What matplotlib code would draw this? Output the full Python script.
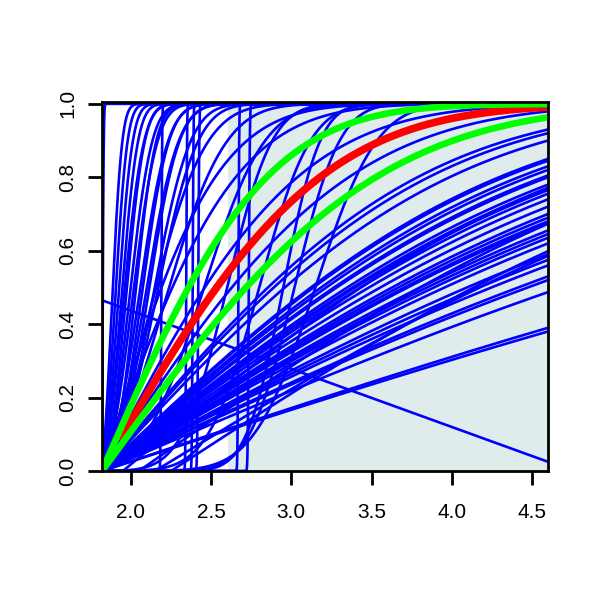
import math
import numpy as np
import matplotlib
matplotlib.use("Agg")
import matplotlib.pyplot as plt

x_min, x_max = 1.82, 4.6

# shaded region
shade_x = [2.605, 4.6]
shade_y = [0.0, 1.0]

# every curve: CDF of a normal (mean, sd) truncated at its start (default x_min)
# steep curves near the left edge
left_mean = [1.822, 1.88, 1.90, 1.92, 1.94, 1.95, 1.97, 1.99, 2.01, 2.03, 2.05, 2.07, 2.09, 2.11, 2.14, 2.16, 2.10, 2.20]
left_sd = [0.006, 0.05, 0.06, 0.07, 0.08, 0.10, 0.09, 0.11, 0.12, 0.10, 0.14, 0.13, 0.16, 0.15, 0.18, 0.20, 0.28, 0.30]

# near-vertical steps
step_mean = [2.19, 2.345, 2.385, 2.42, 2.67, 2.735]
step_sd = [0.004, 0.004, 0.004, 0.005, 0.004, 0.005]

# S-shaped curves in the middle
mid_mean = [2.45, 2.60, 2.80, 2.95, 3.02, 3.15]
mid_sd = [0.30, 0.22, 0.25, 0.18, 0.22, 0.30]

# fan of curves rising from the origin
fan_mean = [1.82] * 35
fan_sd = [0.55, 0.65, 0.95, 1.20,
          1.534, 1.588, 1.690, 1.931, 1.955, 2.026, 2.073, 2.145, 2.169, 2.267,
          2.316, 2.340, 2.390, 2.468, 2.573, 2.682, 2.739, 2.795, 2.825, 2.943,
          3.004, 3.068, 3.167, 3.374, 3.485, 3.600, 3.848, 3.936, 4.248, 5.450, 5.606]

# fan curves that leave the bottom a little later
late_start = [1.95, 2.05, 2.15, 2.25]
late_sd = [2.2, 2.6, 3.0, 2.8]

# decreasing straight line
dec_x = [1.82, 4.6]
dec_y = [0.465, 0.025]

# highlighted curves
red_mean, red_sd, red_start = 1.82, 1.06, 1.93
green_mean = [1.82, 1.82]
green_sd = [0.80, 1.331]

_erf = np.vectorize(math.erf)


def phi(z):
    return 0.5 * (1 + _erf(z / math.sqrt(2)))


def cdf(x, m, s, lo=x_min):
    a = phi((lo - m) / s)
    return np.clip((phi((x - m) / s) - a) / (1 - a), 0, 1)


xs = np.linspace(x_min, x_max, 3000)

fig = plt.figure(figsize=(6, 6), dpi=100)
ax = fig.add_axes([102 / 600, (600 - 471) / 600, (548 - 102) / 600, (471 - 102) / 600])

ax.fill_between(shade_x, shade_y[0], shade_y[1], color="#E0ECEC", lw=0, zorder=0)

blue_kw = dict(color="#0000FF", lw=1.9, zorder=2)
for group_m, group_s in [(left_mean, left_sd), (step_mean, step_sd), (mid_mean, mid_sd), (fan_mean, fan_sd)]:
    for m, s in zip(group_m, group_s):
        ax.plot(xs, cdf(xs, m, s), **blue_kw)
for st, s in zip(late_start, late_sd):
    ax.plot(xs, cdf(xs, st, s, st), **blue_kw)
ax.plot(dec_x, dec_y, **blue_kw)

xr = xs[xs >= red_start]
ax.plot(xr, cdf(xr, red_mean, red_sd), color="#FF0000", lw=5.5, zorder=3, solid_capstyle="butt")
for m, s in zip(green_mean, green_sd):
    ax.plot(xs, cdf(xs, m, s), color="#00FF00", lw=4.8, zorder=4, solid_capstyle="butt")

ax.set_xlim(x_min, x_max)
ax.set_ylim(0, 1.005)

xt = [2.0, 2.5, 3.0, 3.5, 4.0, 4.5]
yt = [0.0, 0.2, 0.4, 0.6, 0.8, 1.0]
ax.set_xticks(xt)
ax.set_xticklabels(["%.1f" % v for v in xt])
ax.set_yticks(yt)
ax.set_yticklabels(["%.1f" % v for v in yt], rotation=90, va="center")

for sp in ax.spines.values():
    sp.set_linewidth(2.0)
    sp.set_color("black")
    sp.set_zorder(5)
ax.tick_params(axis="both", length=10, width=2.0, labelsize=15, direction="out")
ax.tick_params(axis="x", pad=13)
ax.tick_params(axis="y", pad=8)
for lab in ax.get_xticklabels() + ax.get_yticklabels():
    lab.set_fontfamily("Liberation Sans")

fig.savefig("out.png", dpi=100)
